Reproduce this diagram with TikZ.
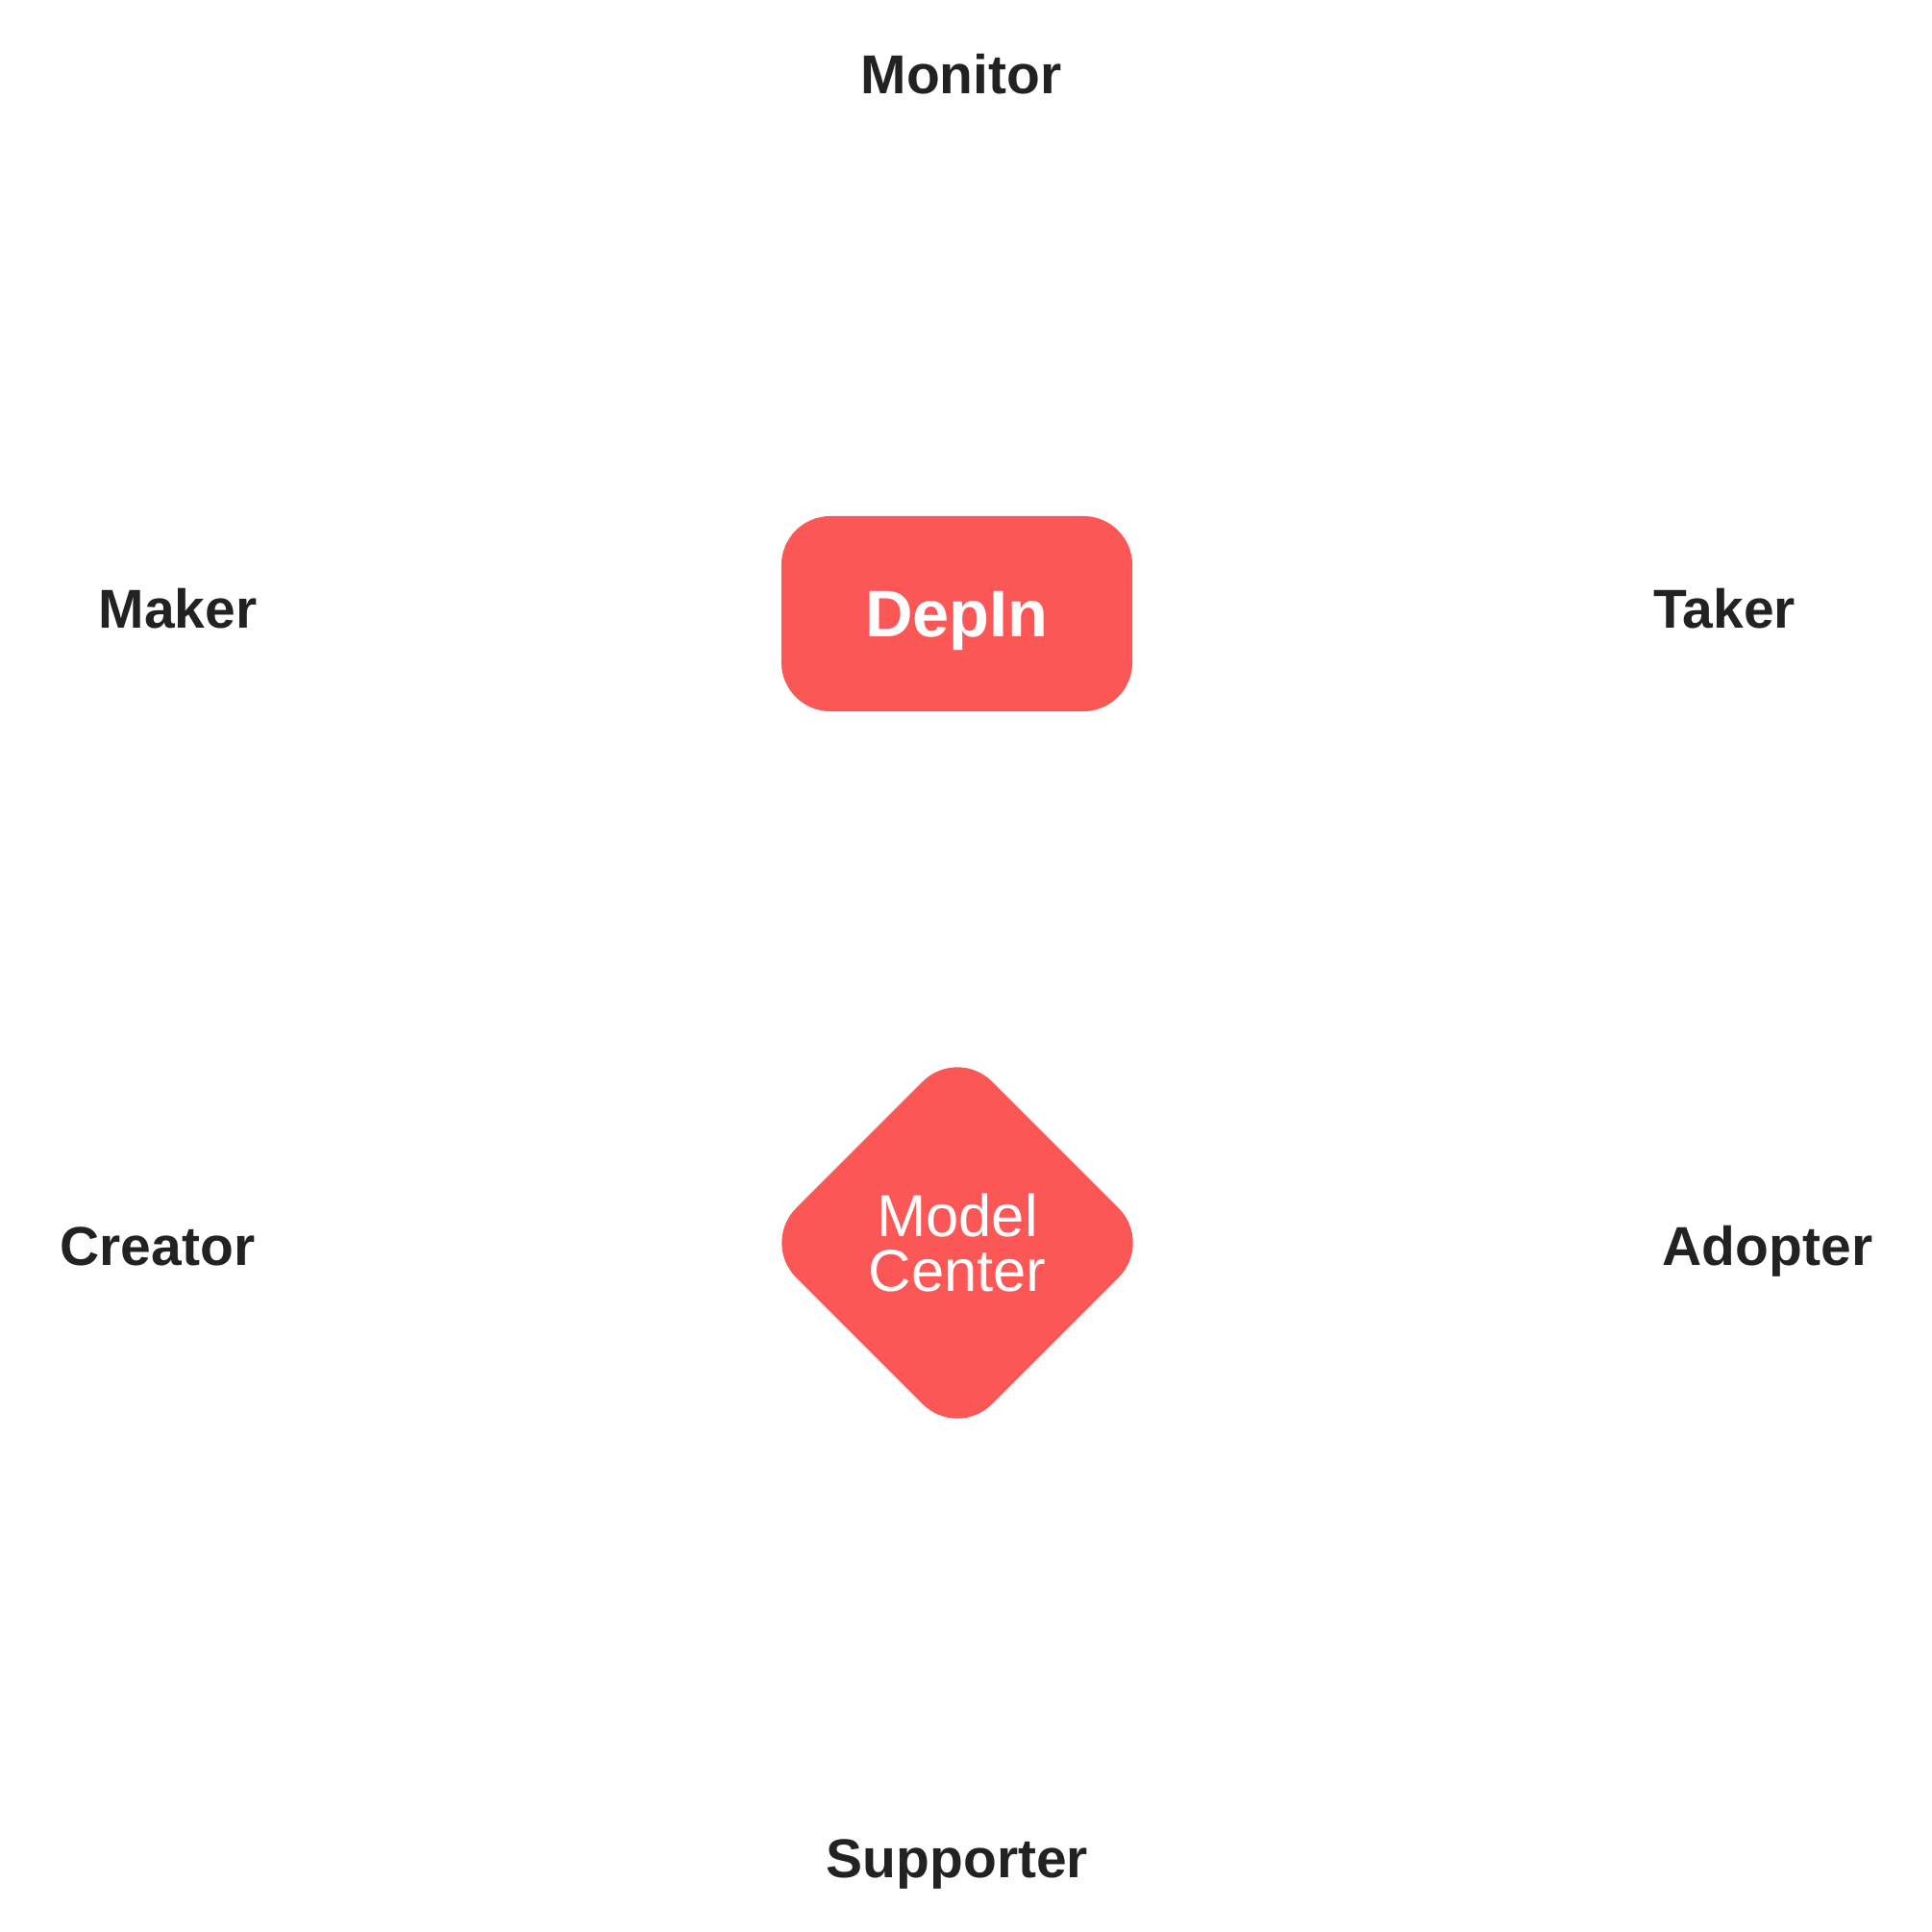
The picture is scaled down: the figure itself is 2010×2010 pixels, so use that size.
\documentclass[tikz,border=0pt]{standalone}
\usepackage{fontspec}
\setmainfont{Liberation Sans}
\usepackage{tikz}
\usetikzlibrary{shapes.geometric}
\definecolor{hubred}{HTML}{FB5757}
\definecolor{inkgray}{HTML}{222222}

\begin{document}
\begin{tikzpicture}[x=0.01cm, y=-0.01cm,
    every node/.style={font=\fontsize{16.2}{19}\selectfont\bfseries, text=inkgray},
    role/.style={anchor=base},
    hub/.style={fill=hubred, text=white, rounded corners=0.51cm, inner sep=0pt}]
        \useasboundingbox (0,0) rectangle (2010,2010);
        % the two hubs
        \node[hub, minimum width=3.65cm, minimum height=2.03cm, text depth=0pt,
              font=\fontsize{19.5}{24}\selectfont\bfseries] (depin) at (995.5,638.5) {DepIn};
        \node[hub, diamond, minimum width=4.08cm, minimum height=4.08cm, align=center,
              font=\fontsize{17.5}{16.2}\selectfont] (center) at (996,1293) {Model\\Center};
        % roles around them
        \node[role] (monitor) at (1000,98) {Monitor};
        \node[role] (maker) at (185,654) {Maker};
        \node[role] (taker) at (1794,654) {Taker};
        \node[role] (creator) at (164,1316) {Creator};
        \node[role] (adopter) at (1839,1316) {Adopter};
        \node[role] (supporter) at (996,1953) {Supporter};
    \end{tikzpicture}
\end{document}
